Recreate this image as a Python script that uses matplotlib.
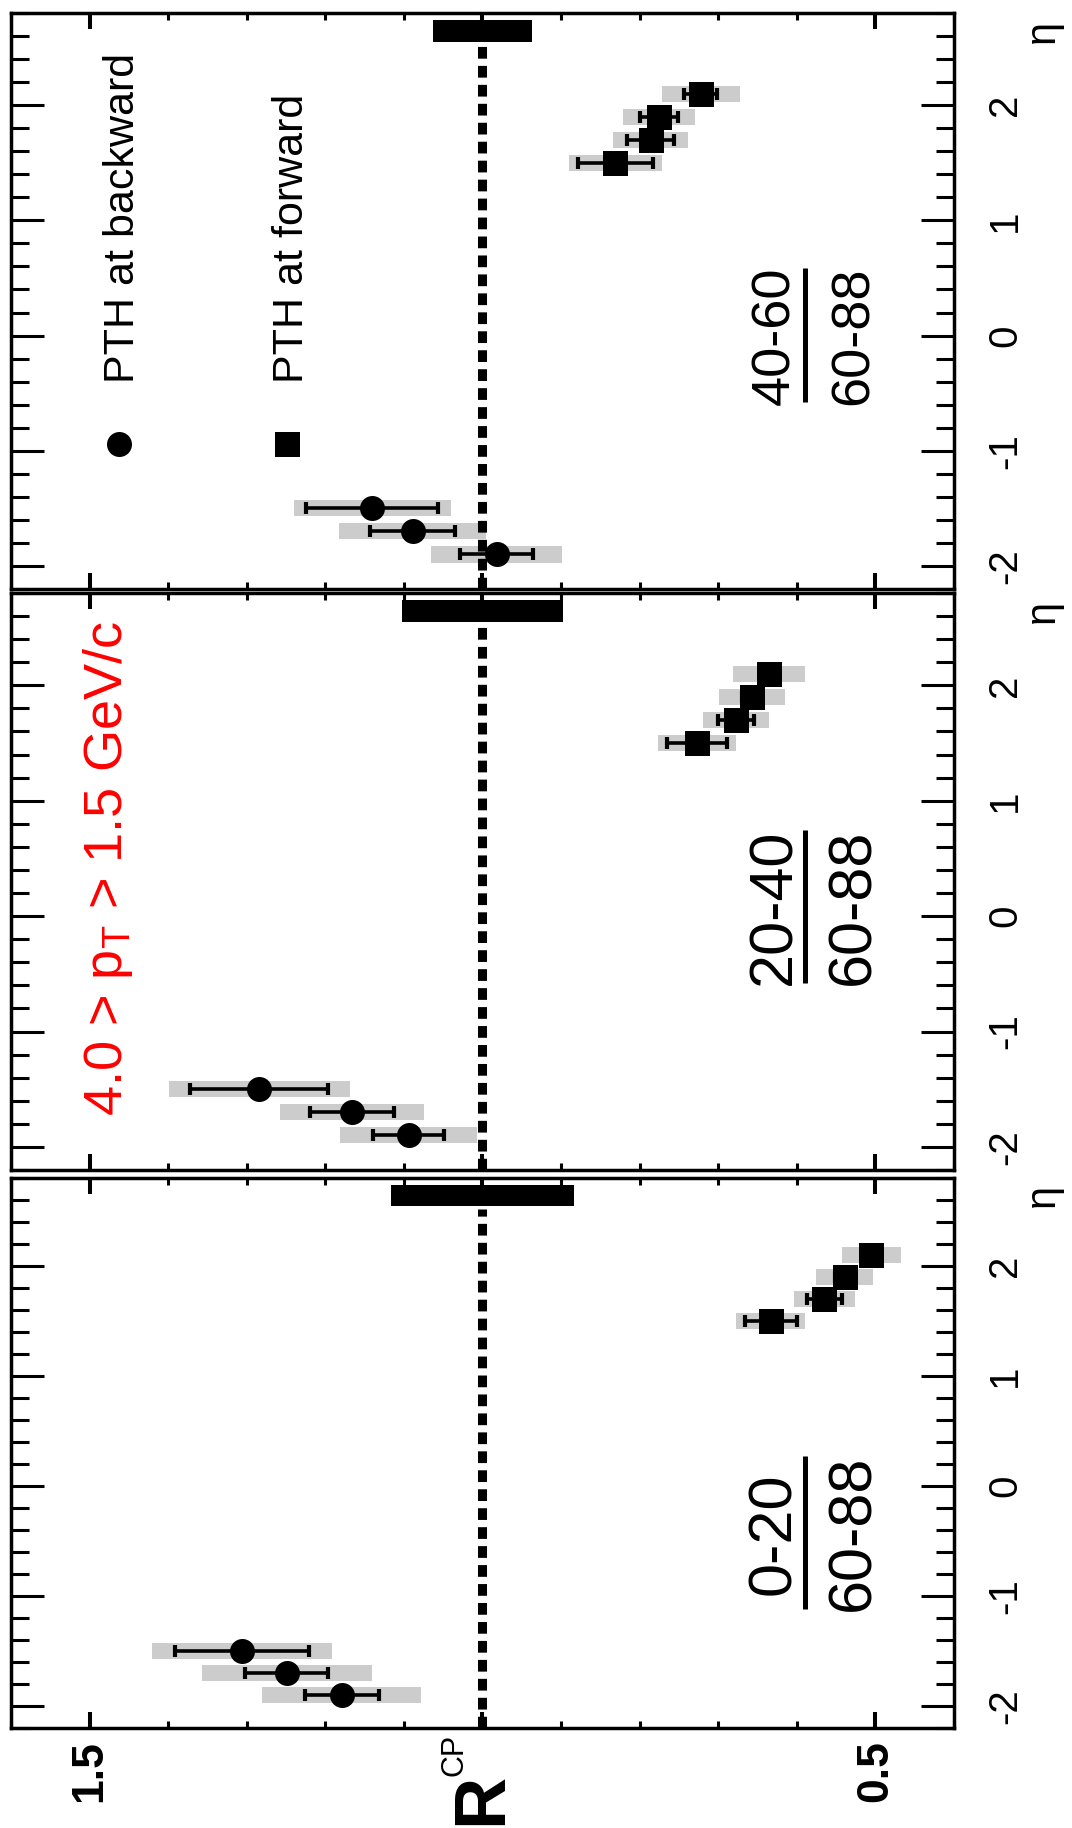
import matplotlib
matplotlib.use("Agg")
import matplotlib.pyplot as plt
from matplotlib.patches import Rectangle
from matplotlib.ticker import FixedLocator, MultipleLocator

plt.rcParams["font.family"] = ["Liberation Sans", "DejaVu Sans"]
plt.rcParams["axes.unicode_minus"] = False
plt.rcParams["mathtext.default"] = "regular"

# ---------------- data ----------------
eta_backward = [-1.5, -1.7, -1.9]
eta_forward = [1.5, 1.7, 1.9, 2.1]

# centrality ratios, panels ordered bottom -> top
ratio_num = ["0-20", "20-40", "40-60"]
ratio_den = ["60-88", "60-88", "60-88"]

rcp_backward = [[1.306, 1.249, 1.179],
                [1.284, 1.166, 1.094],
                [1.140, 1.089, 0.982]]
stat_backward = [[0.085, 0.053, 0.047],
                 [0.088, 0.054, 0.045],
                 [0.084, 0.054, 0.046]]
sys_backward = [[0.115, 0.108, 0.101],
                [0.115, 0.092, 0.087],
                [0.100, 0.093, 0.083]]

rcp_forward = [[0.633, 0.565, 0.539, 0.505],
               [0.727, 0.677, 0.657, 0.635],
               [0.831, 0.786, 0.775, 0.722]]
stat_forward = [[0.033, 0.022, 0.012, 0.010],
                [0.038, 0.023, 0.013, 0.012],
                [0.048, 0.030, 0.024, 0.021]]
sys_forward = [[0.044, 0.039, 0.036, 0.037],
               [0.050, 0.042, 0.042, 0.046],
               [0.059, 0.048, 0.046, 0.050]]

norm_uncertainty = [0.116, 0.1025, 0.063]

legend_labels = ["PTH at backward", "PTH at forward"]
pt_label = "4.0 > p$_T$ > 1.5 GeV/c"
rcp_ticks = [1.5, 1.0, 0.5]
rcp_ticklabels = ["1.5", "", "0.5"]
eta_ticks = [-2, -1, 0, 1, 2]
eta_ticklabels = ["-2", "-1", "0", "1", "2"]

# ---------------- layout ----------------
W, H = 1072, 1828
fig = plt.figure(figsize=(W / 100, H / 100), dpi=100)

PX = 0.72  # points per pixel at 100 dpi
left_px, right_px = 11, 954
panel_px = [(1178, 1728), (593, 1170), (13, 589)]  # (top, bottom) per panel

box_half = 0.07
frac_pos = [(-0.43, 44, (-1.12, 0.27)),
            (0.08, 44, (-0.58, 0.75)),
            (0.0, 39, (-0.58, 0.59))]


def points(ax, r, eta, err, marker):
    line, caps, bars = ax.errorbar(r, eta, xerr=err, fmt=marker, ms=18,
                                   color="black", elinewidth=2.6,
                                   capsize=4.5, capthick=3.0, zorder=3)
    line.set_markeredgewidth(0)


for i, (ptop, pbot) in enumerate(panel_px):
    ax = fig.add_axes([left_px / W, 1 - pbot / H,
                       (right_px - left_px) / W, (pbot - ptop) / H])
    ax.set_xlim(1.6, 0.4)
    ax.set_ylim(-2.2, 2.8)
    for sp in ax.spines.values():
        sp.set_linewidth(2.5)

    # systematic boxes
    for r, s, e in zip(rcp_backward[i], sys_backward[i], eta_backward):
        ax.add_patch(Rectangle((r - s, e - box_half), 2 * s, 2 * box_half,
                               facecolor="#cccccc", edgecolor="none", zorder=1))
    for r, s, e in zip(rcp_forward[i], sys_forward[i], eta_forward):
        ax.add_patch(Rectangle((r - s, e - box_half), 2 * s, 2 * box_half,
                               facecolor="#cccccc", edgecolor="none", zorder=1))

    # reference line at unity
    ax.plot([1.0, 1.0], [-2.2, 2.52], color="black", lw=6.5,
            dashes=(1.3, 0.8), zorder=2)

    # normalisation uncertainty
    n = norm_uncertainty[i]
    ax.add_patch(Rectangle((1.0 - n, 2.55), 2 * n, 0.19,
                           facecolor="black", edgecolor="none", zorder=2))

    points(ax, rcp_backward[i], eta_backward, stat_backward[i], "o")
    points(ax, rcp_forward[i], eta_forward, stat_forward[i], "s")

    # ticks
    ax.xaxis.set_major_locator(FixedLocator(rcp_ticks))
    ax.xaxis.set_minor_locator(MultipleLocator(0.1))
    ax.yaxis.set_minor_locator(MultipleLocator(0.2))
    ax.tick_params(axis="both", which="both", direction="in",
                   top=True, bottom=True, left=True, right=True)
    ax.tick_params(axis="x", which="major", length=11.5, width=2.9)
    ax.tick_params(axis="x", which="minor", length=5, width=2.2)
    ax.tick_params(axis="y", which="major", length=23.8, width=2.2)
    ax.tick_params(axis="y", which="minor", length=12.7, width=2.2)

    ax.set_yticks(eta_ticks, labels=eta_ticklabels, rotation=90,
                  ha="center", va="center", fontsize=29)
    ax.tick_params(axis="y", labelleft=False, labelright=True, pad=51 * PX)

    if i == 0:
        ax.set_xticks(rcp_ticks, labels=rcp_ticklabels, rotation=90,
                      ha="center", va="center", fontsize=32,
                      fontweight="bold")
        ax.tick_params(axis="x", pad=43 * PX)
        ax.annotate("R", xy=(1.0, 0), xycoords=("data", "axes fraction"),
                    xytext=(0, -71 * PX), textcoords="offset points",
                    rotation=90, ha="center", va="center",
                    fontsize=52, fontweight="bold")
        ax.annotate("CP", xy=(1.036, 0), xycoords=("data", "axes fraction"),
                    xytext=(0, -27 * PX), textcoords="offset points",
                    rotation=90, ha="center", va="center", fontsize=22)
    else:
        ax.tick_params(axis="x", labelbottom=False)

    ax.annotate("η", xy=(1, 2.64), xycoords=("axes fraction", "data"),
                xytext=(89 * PX, 0), textcoords="offset points",
                rotation=90, ha="center", va="center", fontsize=30)

    # centrality ratio label
    eta_c, fs, (b0, b1) = frac_pos[i]
    ax.text(0.628, eta_c, ratio_num[i], rotation=90, ha="center",
            va="center", fontsize=fs)
    ax.text(0.527, eta_c, ratio_den[i], rotation=90, ha="center",
            va="center", fontsize=fs)
    ax.plot([0.590, 0.590], [b0, b1], color="black", lw=3.6,
            solid_capstyle="butt")

    if i == 1:
        ax.text(1.477, -1.73, pt_label, rotation=90, ha="center",
                va="bottom", fontsize=39, color="red")

    if i == 2:
        lm = ax.plot([1.462], [-0.94], "o", ms=18, color="black")[0]
        lm.set_markeredgewidth(0)
        lm = ax.plot([1.249], [-0.94], "s", ms=18, color="black")[0]
        lm.set_markeredgewidth(0)
        ax.text(1.457, -0.415, legend_labels[0], rotation=90, ha="center",
                va="bottom", fontsize=31)
        ax.text(1.243, -0.415, legend_labels[1], rotation=90, ha="center",
                va="bottom", fontsize=31)

fig.savefig("out.png", dpi=100)
